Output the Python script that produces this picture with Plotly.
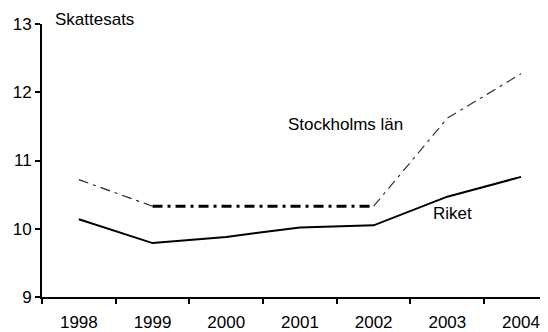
import plotly.graph_objects as go

years = ["1998", "1999", "2000", "2001", "2002", "2003", "2004"]
stockholm = [10.72, 10.33, 10.33, 10.33, 10.33, 11.62, 12.27]
riket = [10.14, 9.79, 9.88, 10.02, 10.05, 10.47, 10.76]
y_ticks = [9, 10, 11, 12, 13]

FONT = "Liberation Sans, Arial, sans-serif"
dash = "10px,5px,3px,5px"

fig = go.Figure()
# Stockholm: thin sloped parts, thick flat part
fig.add_trace(go.Scatter(x=years[0:2], y=stockholm[0:2], mode="lines",
                         line=dict(color="#222", width=1.2, dash=dash), hoverinfo="skip"))
fig.add_trace(go.Scatter(x=years[1:5], y=stockholm[1:5], mode="lines",
                         line=dict(color="black", width=3, dash=dash), hoverinfo="skip"))
fig.add_trace(go.Scatter(x=years[4:7], y=stockholm[4:7], mode="lines",
                         line=dict(color="#333", width=1.2, dash=dash), hoverinfo="skip"))
fig.add_trace(go.Scatter(x=years, y=riket, mode="lines",
                         line=dict(color="black", width=2), hoverinfo="skip"))

fig.update_layout(
    width=540, height=324,
    margin=dict(l=34, r=0, t=16, b=35, autoexpand=False),
    paper_bgcolor="white", plot_bgcolor="white",
    showlegend=False,
    font=dict(family=FONT, size=17, color="black"),
    xaxis=dict(type="category", range=[-0.5, 6.366], tickson="boundaries",
               ticks="outside", ticklen=5, tickwidth=1.5, tickcolor="black",
               showline=True, linecolor="black", linewidth=2,
               showgrid=False, zeroline=False, ticklabelstandoff=9,
               automargin=False,
               tickfont=dict(family=FONT, size=17)),
    yaxis=dict(range=[9, 13], tickvals=y_ticks, ticks="outside", ticklen=5,
               tickwidth=1.5, tickcolor="black",
               showline=True, linecolor="black", linewidth=2,
               showgrid=False, zeroline=False, automargin=False,
               tickfont=dict(family=FONT, size=17)),
    annotations=[
        dict(text="Skattesats", xref="paper", yref="paper", x=0.021, y=1.015,
             xanchor="left", yanchor="middle", showarrow=False,
             font=dict(family=FONT, size=17)),
        dict(text="Stockholms län", xref="paper", yref="paper",
             x=(345 - 42) / 506, y=(297 - 124) / 273,
             xanchor="center", yanchor="middle", showarrow=False,
             font=dict(family=FONT, size=17)),
        dict(text="Riket", xref="paper", yref="paper",
             x=(452 - 42) / 506, y=(297 - 213) / 273,
             xanchor="center", yanchor="middle", showarrow=False,
             font=dict(family=FONT, size=17)),
    ],
)

fig.write_html("out.html")
